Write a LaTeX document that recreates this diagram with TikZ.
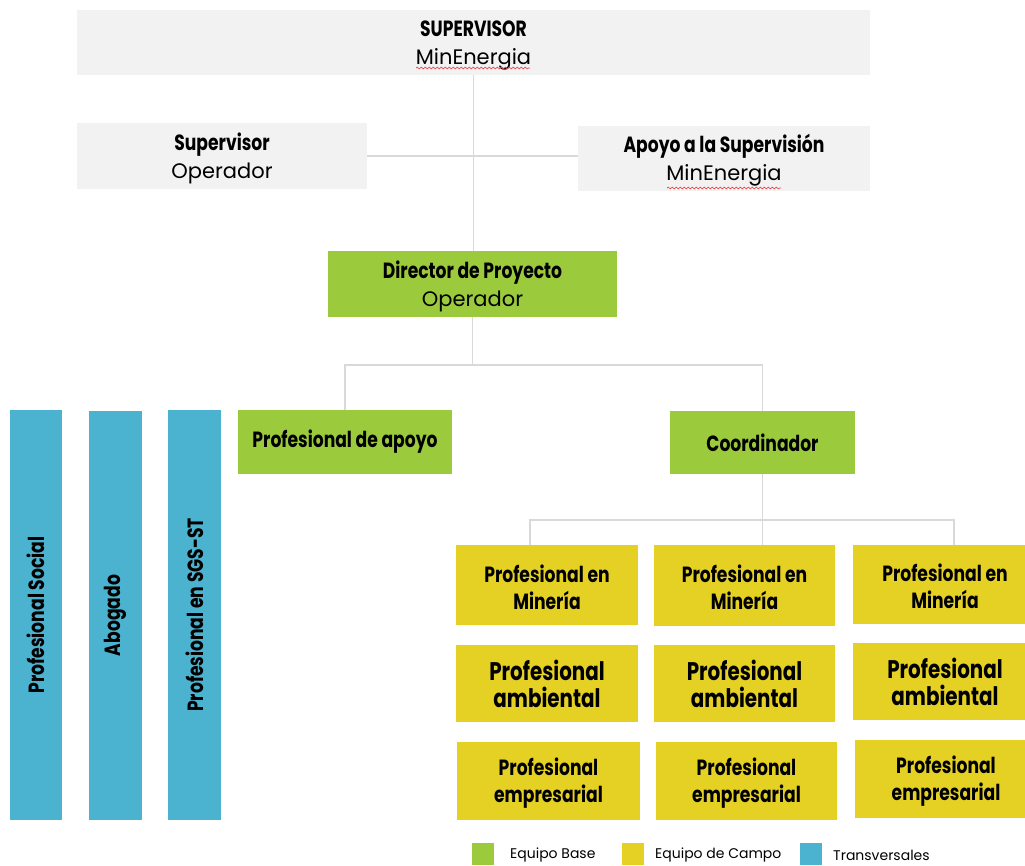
\documentclass[tikz,border=0pt]{standalone}
\usepackage{fontspec}
\setmainfont{Poppins}
\newfontfamily\condfont[FakeStretch=0.78]{Poppins}
\usetikzlibrary{decorations.pathmorphing}

\definecolor{boxgray}{HTML}{F2F2F2}
\definecolor{basegreen}{HTML}{9BCB3C}
\definecolor{fieldyellow}{HTML}{E5D024}
\definecolor{crossblue}{HTML}{4BB2CF}
\definecolor{linkgray}{HTML}{D9D9D9}
\definecolor{spellred}{HTML}{E84A4A}

\newcommand\hd{\condfont\bfseries}
% strut on the first line so that two-line labels sit a little low in their boxes
\newcommand\topstrut{\rule{0pt}{22pt}}
\newcommand\lead[1]{{\fontsize{22}{28}\selectfont\hd\topstrut #1}}

\tikzset{
  unit/.style={inner sep=0pt, outer sep=0pt, align=center, text=black},
  graybox/.style={unit, fill=boxgray},
  basebox/.style={unit, fill=basegreen},
  fieldbox/.style={unit, fill=fieldyellow},
  crossbar/.style={unit, fill=crossblue, rotate=90},
  twoline/.style={font=\fontsize{21}{28}\selectfont},
  headline/.style={font=\fontsize{22}{27}\selectfont\hd},
  bigline/.style={font=\fontsize{25.5}{27}\selectfont\hd},
  link/.style={draw=linkgray, line width=1.5pt},
  swatch/.style={inner sep=0pt, minimum width=22pt, minimum height=22pt},
  legendtext/.style={inner sep=0pt, anchor=west, font=\fontsize{14}{15}\selectfont},
  squiggle/.style={draw=spellred, line width=0.7pt,
    decorate, decoration={snake, segment length=4pt, amplitude=0.9pt}},
}

\begin{document}
\begin{tikzpicture}[x=1pt, y=-1pt]
\useasboundingbox (0,0) rectangle (1025,865);
\clip (0,0) rectangle (1025,865);
\fill[white] (0,0) rectangle (1025,865);

% upper supervision level
\node[graybox, twoline, minimum width=793pt, minimum height=65pt] (sup) at (473.5,42.5)
  {\lead{SUPERVISOR}\\MinEnergia};
\node[graybox, twoline, minimum width=290pt, minimum height=66pt] (supop) at (222,156)
  {\lead{Supervisor}\\Operador};
\node[graybox, twoline, minimum width=292pt, minimum height=65pt] (apoyo) at (724,158.5)
  {\lead{Apoyo a la Supervisión}\\MinEnergia};

% base team
\node[basebox, twoline, minimum width=289pt, minimum height=66pt] (dir) at (472.5,284)
  {\lead{Director de Proyecto}\\Operador};
\node[basebox, headline, minimum width=214pt, minimum height=64pt] (pa) at (345,442)
  {Profesional de apoyo};
\node[basebox, headline, minimum width=185pt, minimum height=63pt] (co) at (762.5,442.5)
  {Coordinador};

% transversal roles
\node[crossbar, headline, minimum width=410pt, minimum height=52pt] (ps) at (36,615)
  {Profesional Social};
\node[crossbar, headline, minimum width=409pt, minimum height=53pt] (ab) at (115.5,615.5)
  {Abogado};
\node[crossbar, headline, minimum width=410pt, minimum height=53pt] (sg) at (194.5,615)
  {Profesional en SGS-ST};

% field team
\foreach \n/\x/\y/\w/\h in {y11/547/585/182/80, y12/744.5/585.5/181/81, y13/945/584.5/184/79}
  \node[fieldbox, headline, minimum width=\w pt, minimum height=\h pt] (\n) at (\x,\y)
    {\topstrut Profesional en\\Minería};
\foreach \n/\x/\y/\w/\h in {y21/547/683.5/182/77, y22/744.5/683.5/181/77, y23/945/681.5/184/77}
  \node[fieldbox, bigline, minimum width=\w pt, minimum height=\h pt] (\n) at (\x,\y)
    {Profesional\\ambiental};
\foreach \n/\x/\y/\w/\h in {y31/548.5/781/183/78, y32/746.5/781/181/78, y33/946/779/182/78}
  \node[fieldbox, headline, minimum width=\w pt, minimum height=\h pt] (\n) at (\x,\y)
    {\topstrut Profesional\\empresarial};

% connectors
\draw[link] (sup.south) -- (sup.south |- dir.north);
\draw[link] (supop.east) -- (supop.east -| apoyo.west);
\coordinate (bus1) at (472.5,365);
\draw[link] (dir.south) -- (bus1);
\draw[link] (pa.north) |- (bus1) -| (co.north);
\coordinate (bus2) at (762.5,520);
\coordinate (t1) at (530,520);
\coordinate (t3) at (954,520);
\draw[link] (co.south) -- (bus2);
\draw[link] (t1 |- y11.north) -- (t1) -- (t3) -- (t3 |- y13.north);
\draw[link] (bus2) -- (bus2 |- y12.north);

% spelling marks under MinEnergia
\draw[squiggle] (416,68) -- (530,68);
\draw[squiggle] (667,188) -- (781,188);

% legend
\node[swatch, fill=basegreen] (lg1) at (483,854) {};
\node[legendtext] (lt1) at (510,855) {Equipo Base};
\node[swatch, fill=fieldyellow] (lg2) at (633,854) {};
\node[legendtext] (lt2) at (655,855) {Equipo de Campo};
\node[swatch, fill=crossblue] (lg3) at (811,854) {};
\node[legendtext] (lt3) at (833,855) {Transversales};
\end{tikzpicture}
\end{document}
